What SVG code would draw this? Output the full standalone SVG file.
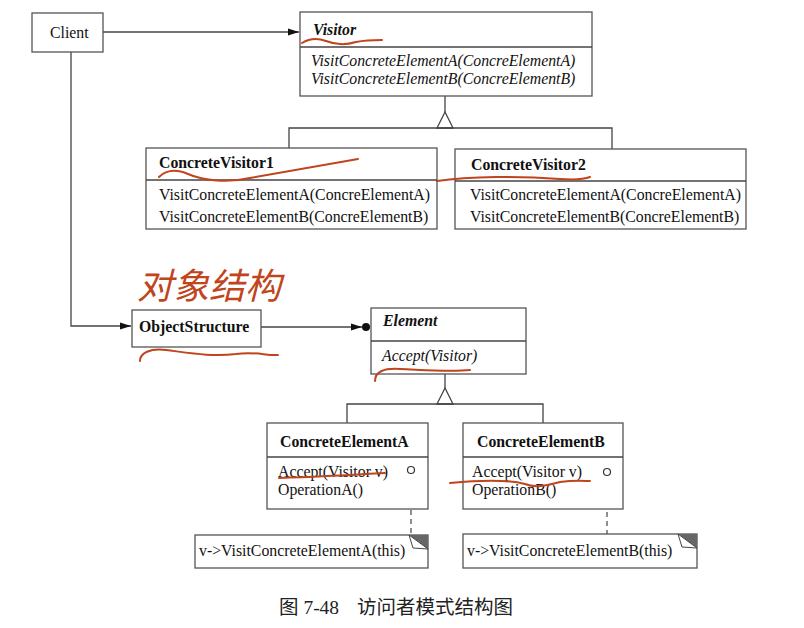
<svg xmlns="http://www.w3.org/2000/svg" width="804" height="628" viewBox="0 0 804 628">
<style>
.box{fill:#fff;stroke:#555;stroke-width:1.3}
.ln{fill:none;stroke:#444;stroke-width:1.3}
.t{font-family:"Liberation Serif","Times New Roman",serif;font-size:15.8px;fill:#111}
.b{font-weight:bold}
.i{font-style:italic}
.red{fill:none;stroke:#c0441c;stroke-width:2;stroke-linecap:round}
.dash{fill:none;stroke:#444;stroke-width:1.2;stroke-dasharray:5,4}
.cap{font-family:"Liberation Serif","Noto Sans CJK SC",serif;font-size:19.5px;fill:#222}
</style>
<defs>
<marker id="arr" markerWidth="12" markerHeight="8" refX="11" refY="4" orient="auto" markerUnits="userSpaceOnUse">
<path d="M0,0.5 L11,4 L0,7.5 Z" fill="#111"/>
</marker>
</defs>
<rect width="804" height="628" fill="#fff"/>

<g id="connectors">
<line class="ln" x1="103" y1="32" x2="299" y2="32" marker-end="url(#arr)"/>
<polyline class="ln" points="71,52 71,326 131,326" marker-end="url(#arr)"/>
<line class="ln" x1="261" y1="327" x2="362" y2="327" marker-end="url(#arr)"/>
<circle cx="366" cy="327" r="4" fill="#111"/>
<line class="ln" x1="445" y1="96" x2="445" y2="112"/>
<path class="ln" d="M445,112 L437,128 L453,128 Z" fill="#fff"/>
<polyline class="ln" points="289,148 289,128 612,128 612,149"/>
<line class="ln" x1="445" y1="374" x2="445" y2="388"/>
<path class="ln" d="M445,388 L437,404 L453,404 Z" fill="#fff"/>
<polyline class="ln" points="347,423 347,404 543,404 543,423"/>
<line class="dash" x1="411" y1="474" x2="411" y2="535"/>
<line class="dash" x1="607" y1="476" x2="607" y2="534"/>
</g>

<g id="client">
<rect class="box" x="32" y="13" width="71" height="39"/>
<text class="t" x="50" y="37.5">Client</text>
</g>

<g id="visitor">
<rect class="box" x="300" y="12" width="292" height="84"/>
<line class="ln" x1="300" y1="47" x2="592" y2="47"/>
<text class="t b i" x="313" y="35">Visitor</text>
<text class="t i" x="311" y="66">VisitConcreteElementA(ConcreElementA)</text>
<text class="t i" x="311" y="84">VisitConcreteElementB(ConcreElementB)</text>
</g>

<g id="concretevisitor1">
<rect class="box" x="146" y="148" width="291" height="81"/>
<line class="ln" x1="146" y1="180" x2="437" y2="180"/>
<text class="t b" x="159" y="168">ConcreteVisitor1</text>
<text class="t" x="159" y="200">VisitConcreteElementA(ConcreElementA)</text>
<text class="t" x="159" y="222">VisitConcreteElementB(ConcreElementB)</text>
</g>

<g id="concretevisitor2">
<rect class="box" x="455" y="149" width="291" height="80"/>
<line class="ln" x1="455" y1="181" x2="746" y2="181"/>
<text class="t b" x="471" y="170">ConcreteVisitor2</text>
<text class="t" x="470" y="200">VisitConcreteElementA(ConcreElementA)</text>
<text class="t" x="470" y="222">VisitConcreteElementB(ConcreElementB)</text>
</g>

<g id="objectstructure">
<rect class="box" x="132" y="310" width="129" height="37"/>
<text class="t b" x="139" y="332">ObjectStructure</text>
</g>

<g id="element">
<rect class="box" x="371" y="308" width="155" height="66"/>
<line class="ln" x1="371" y1="341" x2="526" y2="341"/>
<text class="t b i" x="383" y="326">Element</text>
<text class="t i" x="382" y="361">Accept(Visitor)</text>
</g>

<g id="concreteelementa">
<rect class="box" x="267" y="423" width="161" height="86"/>
<line class="ln" x1="267" y1="457" x2="428" y2="457"/>
<text class="t b" x="280" y="447">ConcreteElementA</text>
<text class="t" x="278" y="477">Accept(Visitor v)</text>
<text class="t" x="278" y="495">OperationA()</text>
<circle cx="411" cy="470" r="3.5" fill="#fff" stroke="#333" stroke-width="1.2"/>
</g>

<g id="concreteelementb">
<rect class="box" x="463" y="423" width="160" height="86"/>
<line class="ln" x1="463" y1="457" x2="623" y2="457"/>
<text class="t b" x="477" y="447">ConcreteElementB</text>
<text class="t" x="472" y="477">Accept(Visitor v)</text>
<text class="t" x="472" y="495">OperationB()</text>
<circle cx="607" cy="472" r="3.5" fill="#fff" stroke="#333" stroke-width="1.2"/>
</g>

<g id="notea">
<rect class="box" x="195" y="535" width="233" height="33"/>
<path d="M409,535 L428,535 L428,549 Z" fill="#666"/>
<path d="M409,535 L428,549 L413,548 Z" fill="#fff" stroke="#444" stroke-width="1"/>
<text class="t" x="199" y="556">v-&gt;VisitConcreteElementA(this)</text>
</g>

<g id="noteb">
<rect class="box" x="463" y="534" width="234" height="34"/>
<path d="M678,534 L697,534 L697,548 Z" fill="#666"/>
<path d="M678,534 L697,548 L682,547 Z" fill="#fff" stroke="#444" stroke-width="1"/>
<text class="t" x="467" y="556">v-&gt;VisitConcreteElementB(this)</text>
</g>

<g id="caption">
<text class="cap" x="279" y="614">图 7-48</text>
<text class="cap" x="357" y="614">访问者模式结构图</text>
</g>

<g id="annotations">
<path class="red" d="M302,43 C310,38 318,38 326,41 C336,45 346,45 356,42 C366,40 374,40 382,40"/>
<path class="red" d="M159,177 C166,170 176,169 188,174 C204,181 228,183 250,178 C290,171 330,164 358,159"/>
<path class="red" d="M437,181 C470,176 520,176 560,179 C575,180 585,179 590,177"/>
<text x="137" y="299" font-family="'Noto Sans CJK SC',sans-serif" font-size="36" font-style="italic" fill="#c0441c">对象结构</text>
<path class="red" d="M140,361 C140,353 150,348 166,350 C190,353 212,357 236,354 C256,351 266,356 278,355"/>
<path class="red" d="M375,381 C375,372 383,368 400,369 C425,370 450,372 470,370"/>
<path class="red" d="M279,478 C310,477 350,475 385,473"/>
<path class="red" d="M450,483 C480,480 510,480 525,484 C535,488 545,486 560,482 C575,480 585,481 590,481"/>
</g>
</svg>
